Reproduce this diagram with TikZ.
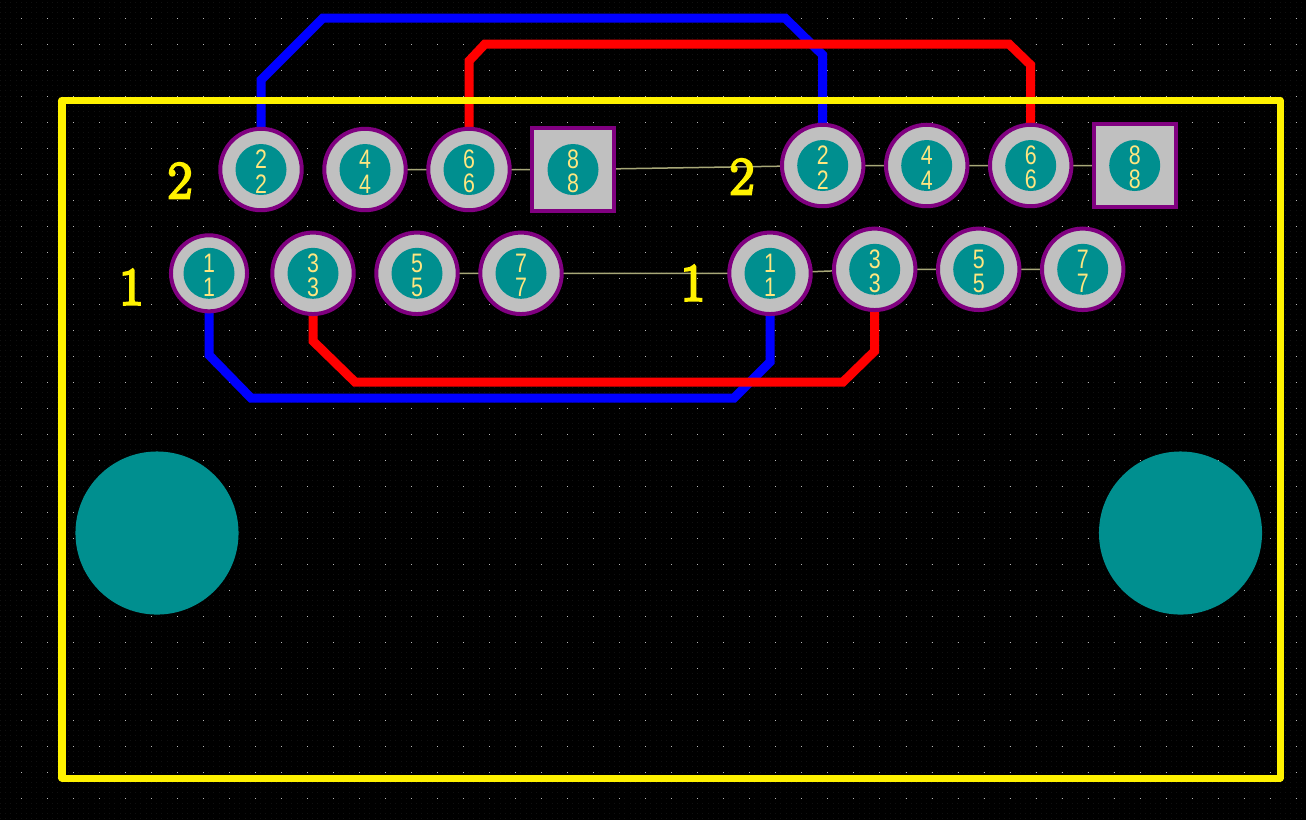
\documentclass[tikz,border=0pt]{standalone}
\usepackage{fontspec}
\setmainfont{Liberation Sans}
\newfontfamily\silkfont[FakeBold=5]{Latin Modern Roman}
\usetikzlibrary{positioning,backgrounds}
\definecolor{padgray}{HTML}{C0C0C0}
\definecolor{padpurple}{HTML}{800080}
\definecolor{holeteal}{HTML}{008F8F}
\definecolor{padtext}{HTML}{FFE680}
\definecolor{ratline}{HTML}{A8A878}
\definecolor{griddot}{HTML}{B8B8B8}
\definecolor{finedot}{HTML}{101010}
\tikzset{
  board/.style={x=0.01cm,y=-0.01cm},
  outline/.style={draw=yellow,line width=0.07cm,line join=round},
  trace/.style={line width=0.09cm,line join=miter},
  pad/.style={circle,draw=padpurple,fill=padgray,line width=0.04cm,minimum size=0.814cm,
    inner sep=0pt,align=center,text=padtext,font=\fontsize{7.6}{6.9}\selectfont,
    path picture={\fill[holeteal] (path picture bounding box.center) circle (25.5);}},
  small pad/.style={pad,minimum size=0.76cm},
  square pad/.style={pad,rectangle,minimum size=0.82cm},
  mount/.style={circle,fill=holeteal,minimum size=1.63cm,inner sep=0pt},
  silk/.style={text=yellow,inner sep=0pt,font=\silkfont\fontsize{15}{15}\selectfont},
  rat/.style={draw=ratline,line width=0.015cm}
}
\newcommand{\padnum}[1]{\rule{0pt}{6.5pt}\scalebox{0.8}[1]{#1}\\\scalebox{0.8}[1]{#1}}
\begin{document}
\begin{tikzpicture}[board]
  \useasboundingbox (0,0) rectangle (1306,820);
  \node[pad,small pad] (a1) at (209,273.3) {\padnum{1}};
  \foreach \n/\x in {3/313,5/417,7/521}
    \node[pad] (a\n) at (\x,273.3) {\padnum{\n}};
  \foreach \n/\x in {2/261,4/365,6/469}
    \node[pad] (a\n) at (\x,169.5) {\padnum{\n}};
  \node[square pad] (a8) at (573,169.5) {\padnum{8}};
  \node[pad] (b1) at (770,273.3) {\padnum{1}};
  \foreach \n/\x in {3/874.7,5/978.7,7/1082.7}
    \node[pad] (b\n) at (\x,269.3) {\padnum{\n}};
  \foreach \n/\x in {2/822.7,4/926.7,6/1030.7}
    \node[pad] (b\n) at (\x,165.5) {\padnum{\n}};
  \node[square pad] (b8) at (1134.7,165.5) {\padnum{8}};
  \node[mount] (m1) at (157,533) {};
  \node[mount] (m2) at (1180.5,533) {};
  \begin{scope}[on background layer]
    \fill[black] (0,0) rectangle (1306,820);
    \foreach \r in {0,...,157}
      \draw[finedot,line width=0.01cm,dash pattern=on 0.01cm off 0.042cm] (0,5.2*\r+2.4) -- (1306,5.2*\r+2.4);
    \foreach \r in {0,...,31}
      \draw[griddot,line width=0.01cm,dash pattern=on 0.01cm off 0.25cm] (21,26*\r+18) -- (1306,26*\r+18);
    \draw[rat] (a4.center) -- (a6.center) -- (a8.center) -- (b2.center) -- (b4.center) -- (b6.center) -- (b8.center);
    \draw[rat] (a5.center) -- (a7.center) -- (b1.center) -- (b3.center) -- (b5.center) -- (b7.center);
    \draw[trace,blue] (a2.center) -- (261,80) -- (323,18) -- (785,18) -- (822.7,55) -- (b2.center);
    \draw[trace,blue] (a1.center) -- (209,355) -- (251,398) -- (734,398) -- (770,362) -- (b1.center);
    \draw[trace,red] (a6.center) -- (469,61) -- (485,44) -- (1009,44) -- (1030.7,65) -- (b6.center);
    \draw[trace,red] (a3.center) -- (313,341) -- (355,382) -- (843,382) -- (874.7,351) -- (b3.center);
  \end{scope}
  \draw[outline] (62,100) rectangle (1280,778);
  \node[silk] (la2) at (180,180.5) {2};
  \node[silk] (la1) at (131.5,287) {1};
  \node[silk] (lb2) at (742,176.5) {2};
  \node[silk] (lb1) at (693,283) {1};
\end{tikzpicture}
\end{document}
